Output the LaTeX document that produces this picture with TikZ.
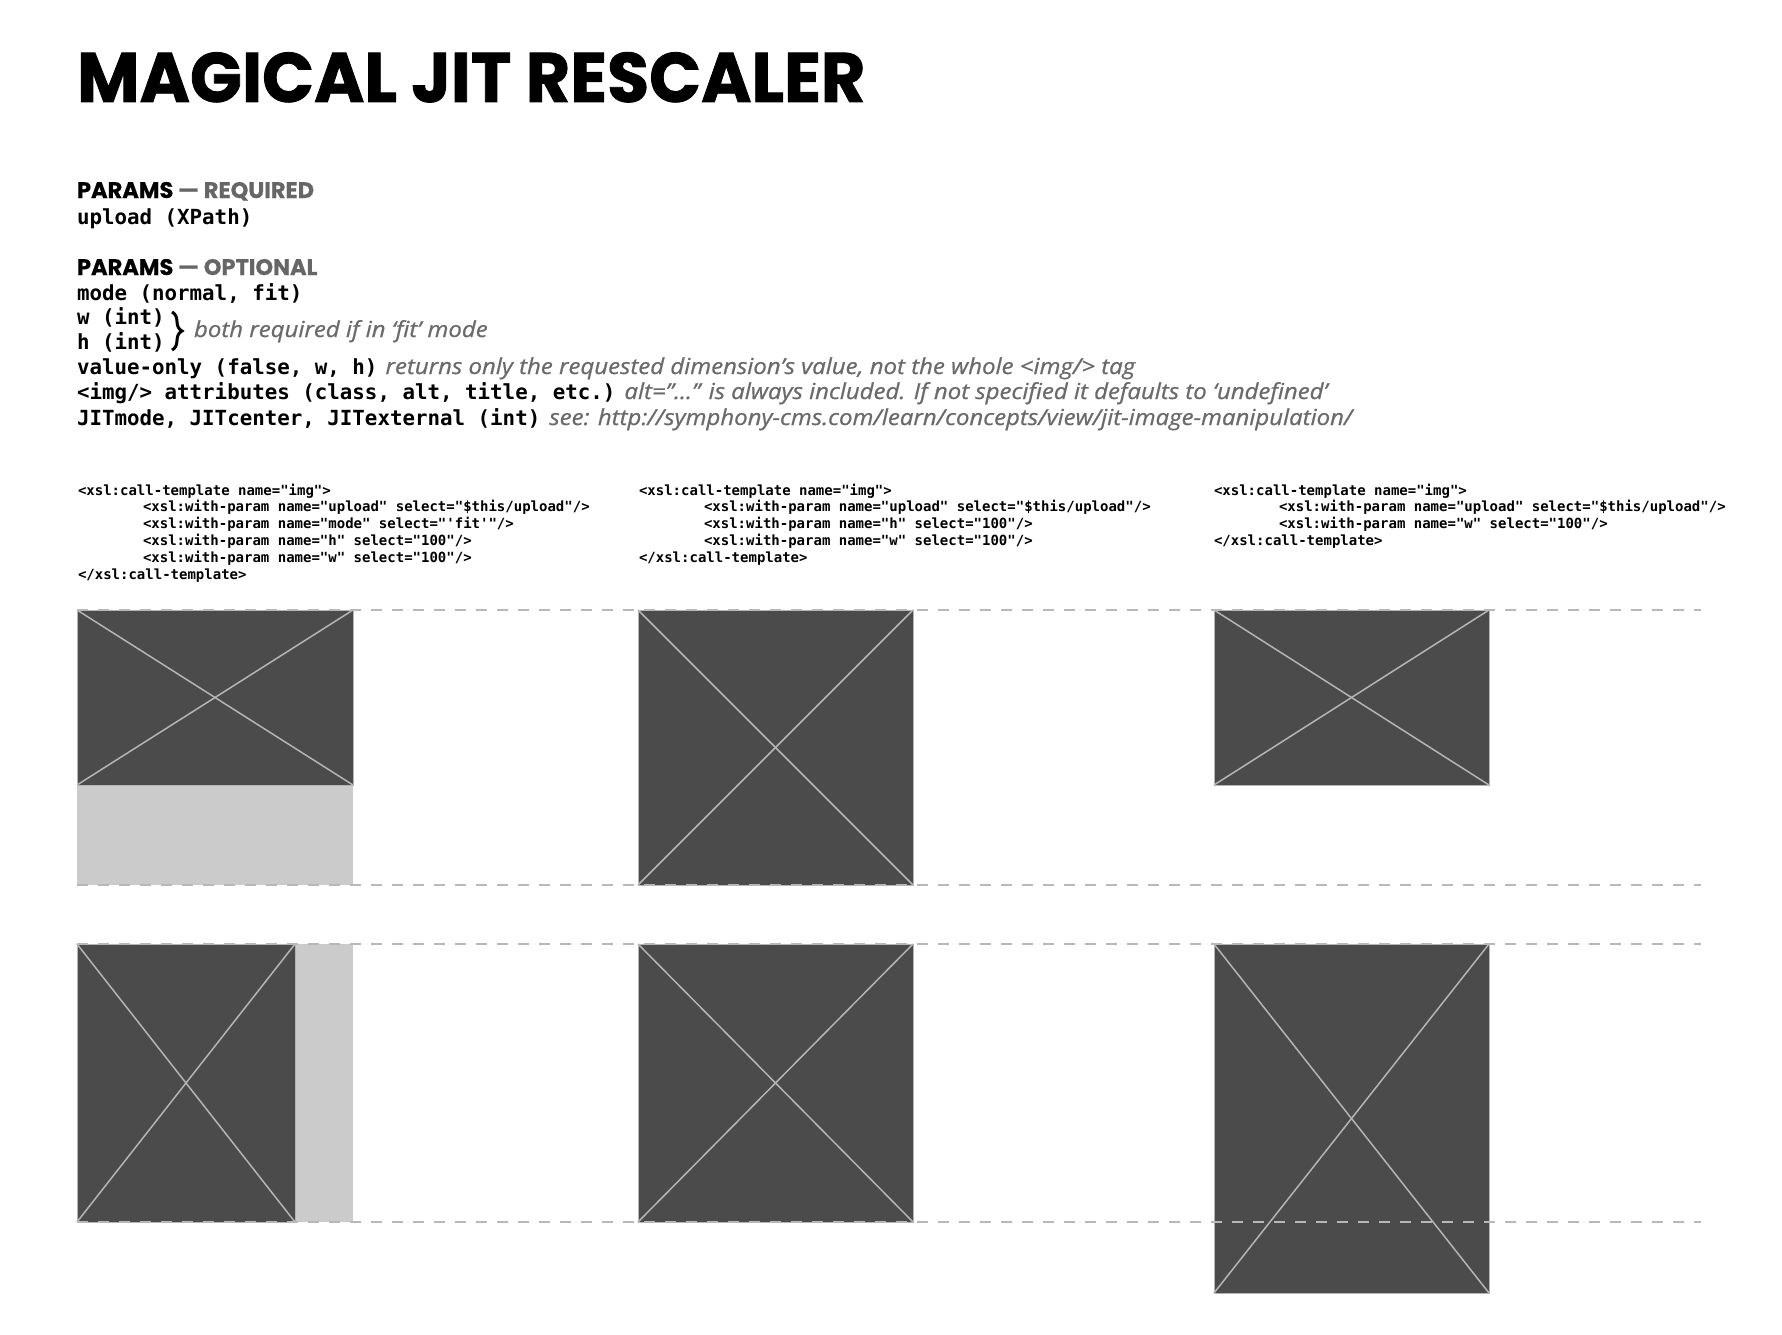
\documentclass[tikz,border=0pt]{standalone}
\usepackage{fontspec}
\setmainfont{Poppins}
\setmonofont{DejaVu Sans Mono}
\newfontfamily\titlefont{Poppins}[FakeStretch=0.975, FakeBold=1.2]
\newfontfamily\headfont{Poppins}[FakeBold=0.6]
\newfontfamily\notefont{Open Sans}[FakeStretch=1.09, FakeBold=0.7]
\usetikzlibrary{decorations.pathreplacing}
\definecolor{imgdark}{HTML}{4B4B4B}
\definecolor{imglight}{HTML}{CBCBCB}
\definecolor{crossc}{HTML}{B4B4B4}
\definecolor{dashc}{HTML}{B8B8B8}
\definecolor{headgray}{HTML}{666666}
\definecolor{notegray}{HTML}{6A6A6A}
\newcommand\codeind{\hspace*{65pt}}
\begin{document}
\begin{tikzpicture}[x=1pt,y=-1pt,
  txt/.style={anchor=base west, inner sep=0pt, outer sep=0pt},
  titletxt/.style={txt, font=\titlefont\bfseries\fontsize{70}{70}\selectfont},
  headtxt/.style={txt, font=\headfont\bfseries\fontsize{22.5}{26}\selectfont},
  monotxt/.style={txt, font=\ttfamily\bfseries\fontsize{20.8}{25}\selectfont},
  notetxt/.style={txt, text=notegray, font=\notefont\itshape\fontsize{22}{26}\selectfont},
  codetxt/.style={txt, font=\ttfamily\bfseries\fontsize{14}{16.8}\selectfont},
  imgbox/.style={anchor=north west, inner sep=0pt, outer sep=0pt, fill=imgdark, draw=crossc, line width=1pt},
  padbox/.style={anchor=north west, inner sep=0pt, outer sep=0pt, fill=imglight},
  cross/.style={draw=crossc, line width=1.5pt},
  guide/.style={draw=dashc, line width=2pt, dash pattern=on 11pt off 10pt},
  bracestyle/.style={draw=black, line width=3pt, decorate, decoration={brace, amplitude=10pt}}
]
\useasboundingbox (0,0) rectangle (1782,1335);
\fill[white] (0,0) rectangle (1782,1335);

% title
\node[titletxt] (title) at (77,102) {MAGICAL JIT RESCALER};

% required params
\node[headtxt] (reqhead) at (77,198) {PARAMS \textcolor{headgray}{— REQUIRED}};
\node[monotxt] (upload) at (77,224) {upload (XPath)};

% optional params
\node[headtxt] (opthead) at (77,275) {PARAMS \textcolor{headgray}{— OPTIONAL}};
\node[monotxt] (mode) at (77,300) {mode (normal, fit)};
\node[monotxt] (wint) at (77,324) {w (int)};
\node[monotxt] (hint) at (77,349) {h (int)};
\coordinate (brtop) at (172,312);
\coordinate (brbot) at (172,350);
\draw[bracestyle] (brtop) -- (brbot);
\node[notetxt] (bothnote) at (194,337) {both required if in ‘fit’ mode};
\node[monotxt] (valonly) at (77,374) {value-only (false, w, h)};
\node[notetxt] (valnote) at ([xshift=8pt]valonly.base east) {returns only the requested dimension’s value, not the whole <img/> tag};
\node[monotxt] (attrs) at (77,399) {<img/> attributes (class, alt, title, etc.)};
\node[notetxt] (attrnote) at ([xshift=9pt]attrs.base east) {alt=”...” is always included. If not specified it defaults to ‘undefined’};
\node[monotxt] (jit) at (77,425) {JITmode, JITcenter, JITexternal (int)};
\node[notetxt] (jitnote) at ([xshift=9pt]jit.base east) {see: http://symphony-cms.com/learn/concepts/view/jit-image-manipulation/};

% code column 1
\node[codetxt] (a1) at (78,495) {<xsl:call-template name="img">};
\node[codetxt] (a2) at (78,511.8) {\codeind<xsl:with-param name="upload" select="\$this/upload"/>};
\node[codetxt] (a3) at (78,528.6) {\codeind<xsl:with-param name="mode" select="'fit'"/>};
\node[codetxt] (a4) at (78,545.4) {\codeind<xsl:with-param name="h" select="100"/>};
\node[codetxt] (a5) at (78,562.2) {\codeind<xsl:with-param name="w" select="100"/>};
\node[codetxt] (a6) at (78,579) {</xsl:call-template>};

% code column 2
\node[codetxt] (b1) at (639,495) {<xsl:call-template name="img">};
\node[codetxt] (b2) at (639,511.8) {\codeind<xsl:with-param name="upload" select="\$this/upload"/>};
\node[codetxt] (b3) at (639,528.6) {\codeind<xsl:with-param name="h" select="100"/>};
\node[codetxt] (b4) at (639,545.4) {\codeind<xsl:with-param name="w" select="100"/>};
\node[codetxt] (b5) at (639,562.2) {</xsl:call-template>};

% code column 3
\node[codetxt] (c1) at (1214,495) {<xsl:call-template name="img">};
\node[codetxt] (c2) at (1214,511.8) {\codeind<xsl:with-param name="upload" select="\$this/upload"/>};
\node[codetxt] (c3) at (1214,528.6) {\codeind<xsl:with-param name="w" select="100"/>};
\node[codetxt] (c4) at (1214,545.4) {</xsl:call-template>};

% row 1 images
\node[padbox, minimum width=276pt, minimum height=100pt] (p1) at (77,785) {};
\node[imgbox, minimum width=276pt, minimum height=175pt] (i1) at (77,610) {};
\draw[cross] (i1.north west) -- (i1.south east);
\draw[cross] (i1.south west) -- (i1.north east);

\node[imgbox, minimum width=275pt, minimum height=275pt] (i2) at (638,610) {};
\draw[cross] (i2.north west) -- (i2.south east);
\draw[cross] (i2.south west) -- (i2.north east);

\node[imgbox, minimum width=275pt, minimum height=175pt] (i3) at (1214,610) {};
\draw[cross] (i3.north west) -- (i3.south east);
\draw[cross] (i3.south west) -- (i3.north east);

% row 2 images
\node[padbox, minimum width=58pt, minimum height=278pt] (p4) at (295,944) {};
\node[imgbox, minimum width=218pt, minimum height=278pt] (i4) at (77,944) {};
\draw[cross] (i4.north west) -- (i4.south east);
\draw[cross] (i4.south west) -- (i4.north east);

\node[imgbox, minimum width=275pt, minimum height=278pt] (i5) at (638,944) {};
\draw[cross] (i5.north west) -- (i5.south east);
\draw[cross] (i5.south west) -- (i5.north east);

\node[imgbox, minimum width=275pt, minimum height=349pt] (i6) at (1214,944) {};
\draw[cross] (i6.north west) -- (i6.south east);
\draw[cross] (i6.south west) -- (i6.north east);

% guide lines
\coordinate (g1l) at (77,610);   \coordinate (g1r) at (1701,610);
\coordinate (g2l) at (77,885);   \coordinate (g2r) at (1701,885);
\coordinate (g3l) at (77,944);   \coordinate (g3r) at (1701,944);
\coordinate (g4l) at (77,1222);  \coordinate (g4r) at (1701,1222);
\draw[guide] (g1l) -- (g1r);
\draw[guide] (g2l) -- (g2r);
\draw[guide] (g3l) -- (g3r);
\draw[guide] (g4l) -- (g4r);
\end{tikzpicture}
\end{document}
